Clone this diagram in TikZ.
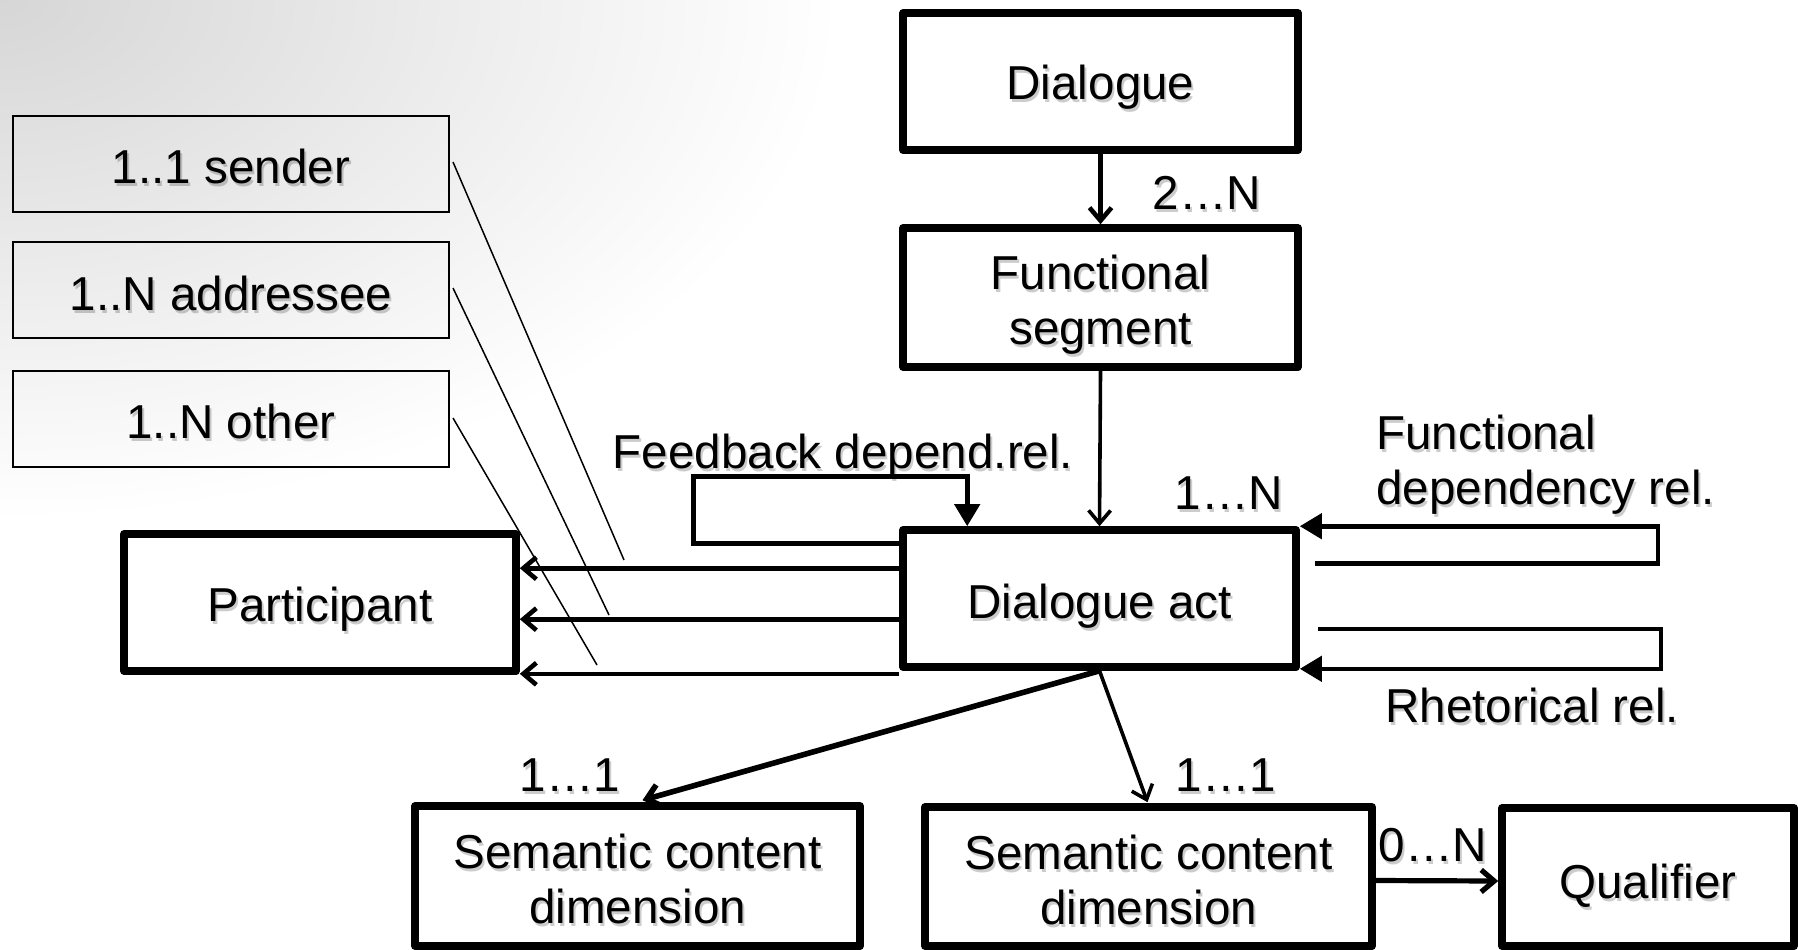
\documentclass[tikz,border=0pt]{standalone}
\usepackage{fontspec}
\setmainfont{Liberation Sans}
\usetikzlibrary{arrows.meta,calc,shadows}

% one drawing unit = one pixel of a 1798 x 949 slide (0.5pt), y grows downwards
\tikzset{
  every node/.style={font=\fontsize{23.8pt}{27.5pt}\selectfont},
  box/.style={draw=black, line width=3.8pt, fill=white, line join=round,
    inner sep=0pt,
    drop shadow={shadow xshift=1.2pt, shadow yshift=-1.8pt, opacity=0.22, fill=black}},
  tagbox/.style={draw=black, line width=1pt, inner sep=0pt,
    minimum width=218pt, minimum height=48pt},
  txt/.style={align=center, text=black, inner sep=0pt},
  txtsh/.style={align=center, text=black, text opacity=0.2, inner sep=0pt},
  barb/.style={line width=2.3pt, -{Straight Barb[length=6.5pt,width=11pt]}},
  tri/.style={line width=2.3pt, -{Triangle[length=11pt,width=12.5pt]}, line join=miter},
  pointer/.style={line width=0.75pt, black},
}

% framed box: empty frame, shadowed text on top (#6 = vertical text offset)
\newcommand\dabox[6]{%
  \node[box, minimum width=#3, minimum height=#4] (#1) at (#2) {};
  \node[txtsh] at ($(#1.center)+(2,3+#6)$) {#5};
  \node[txt] (#1-t) at ($(#1.center)+(0,#6)$) {#5};
}
% free text with soft shadow
\newcommand\dalabel[4]{%
  \node[txtsh,#3] at ($(#2)+(2,3)$) {#4};
  \node[txt,#3] (#1) at (#2) {#4};
}

\begin{document}
\begin{tikzpicture}[x=0.5pt,y=-0.5pt]
\useasboundingbox (0,0) rectangle (1798,949);

% slide background: grey haze in the upper left corner
\begin{scope}
  \clip (0,0) rectangle (1798,949);
  \fill[white] (0,0) rectangle (1798,949);
  \shade[inner color=black!16, outer color=white] (0,0) ellipse [x radius=840, y radius=520];
\end{scope}

% role boxes
\node[tagbox] (sender) at (231,164) {};
\dalabel{sender-t}{$(sender.center)+(0,2)$}{}{1..1 sender}
\node[tagbox] (addr) at (231,290) {};
\dalabel{addr-t}{$(addr.center)+(0,3)$}{}{1..N addressee}
\node[tagbox] (other) at (231,419) {};
\dalabel{other-t}{$(other.center)+(0,2)$}{}{1..N other}

% main boxes
\dabox{dlg}{1100.5,81.5}{197.5pt}{68.5pt}{Dialogue}{6}
\dabox{fseg}{1100.5,297.5}{197.5pt}{69.5pt}{Functional\\segment}{7}
\dabox{dact}{1099.5,598.5}{196.5pt}{68.5pt}{Dialogue act}{8}
\dabox{part}{320,602.5}{196pt}{68.5pt}{Participant}{7}
\dabox{scd1}{637.5,876}{222.5pt}{70pt}{Semantic content\\dimension}{3}
\dabox{scd2}{1148.5,876.5}{223.5pt}{69.5pt}{Semantic content\\dimension}{3}
\dabox{qual}{1648,877}{146pt}{69pt}{Qualifier}{9}

% hierarchy
\draw[barb] (dlg.south) -- (fseg.north);
\dalabel{n2N}{1207,193}{}{2…N}
\draw[barb, line width=1.8pt] (fseg.south) -- (dact.north);
\dalabel{n1N}{1229,493}{}{1…N}

% feedback dependency loop
\draw[tri] ($(dact.north west)+(0,17)$) -- ++(-206,0) -- ++(0,-67) -| ($(dact.north west)+(68,0)$);
\dalabel{fbl}{843,456}{}{Feedback depend.rel.}

% functional dependency loop
\draw[tri] ($(dact.north east)+(15,37)$) -| ($(dact.north east)+(358,0)$) -- (dact.north east);
\dalabel{fdl}{1376,465}{anchor=west, align=left}{Functional\\dependency rel.}

% rhetorical loop
\draw[tri] ($(dact.south east)+(18,-42)$) -| ($(dact.south east)+(361,-2)$) -- ($(dact.south east)+(0,-2)$);
\dalabel{rhl}{1385,705}{anchor=west}{Rhetorical rel.}

% dialogue act to participant
\coordinate (p1) at ($(dact.north west)+(0,42)$);
\coordinate (p2) at ($(dact.north west)+(0,93)$);
\coordinate (p3) at ($(dact.south west)+(0,3)$);
\draw[barb] (p1) -- (p1 -| part.east);
\draw[barb] (p2) -- (p2 -| part.east);
\draw[barb] (p3) -- (p3 -| part.east);

% role pointers
\coordinate (e1) at (624,560);
\coordinate (e2) at (609,615);
\coordinate (e3) at (597,665);
\draw[pointer] ($(sender.east)+(3,-2)$) -- (e1);
\draw[pointer] ($(addr.east)+(3,-2)$) -- (e2);
\draw[pointer] ($(other.east)+(3,-1)$) -- (e3);

% semantic content
\draw[barb, line width=2.8pt] (dact.south) -- ($(scd1.north)+(5,-2)$);
\dalabel{n11a}{570,775}{}{1…1}
\draw[barb, line width=1.8pt] (dact.south) -- ($(scd2.north)+(-1,-1)$);
\dalabel{n11b}{1226,775}{}{1…1}
\draw[barb, line width=2.6pt] ($(scd2.east)+(0,4)$) -- ($(qual.west)+(0,4)$);
\dalabel{n0N}{1433,845}{}{0…N}

\end{tikzpicture}
\end{document}
